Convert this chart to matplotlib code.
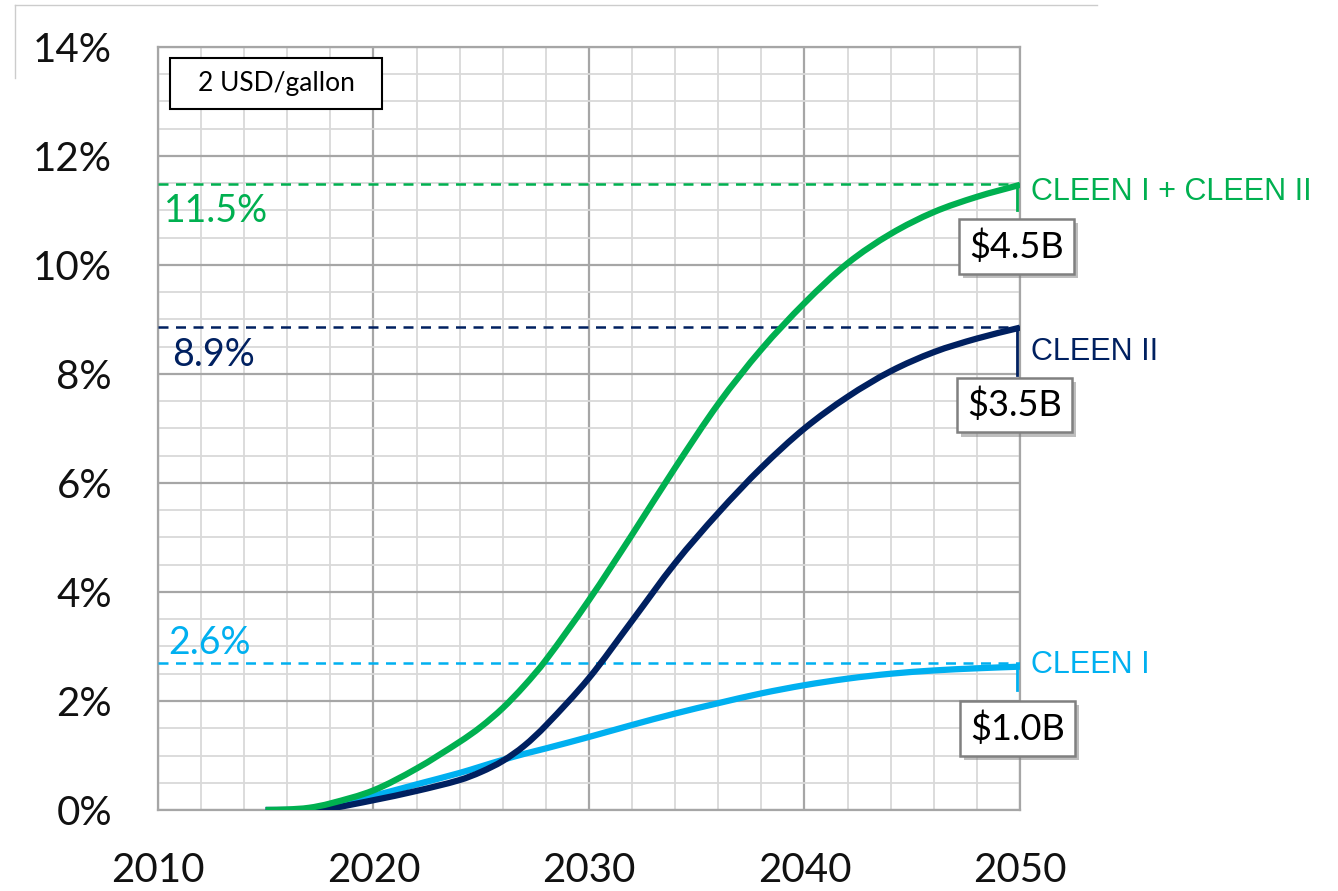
import numpy as np
import matplotlib.pyplot as plt
from matplotlib import patheffects
from matplotlib.lines import Line2D
from matplotlib.path import Path
from matplotlib.patches import PathPatch, Rectangle

# curves (percent)
years = [2015, 2016, 2017, 2018, 2020, 2022, 2024, 2025, 2026, 2027, 2028, 2030,
         2032, 2034, 2036, 2038, 2040, 2042, 2044, 2046, 2048, 2050]
cleen_both = [0.0, 0.01, 0.04, 0.12, 0.36, 0.76, 1.25, 1.53, 1.87, 2.28, 2.75, 3.85,
              5.05, 6.28, 7.45, 8.45, 9.3, 10.03, 10.57, 10.97, 11.25, 11.47]
cleen_2 = [0.0, 0.0, 0.0, 0.03, 0.18, 0.35, 0.55, 0.7, 0.9, 1.18, 1.55, 2.42,
           3.47, 4.53, 5.45, 6.28, 7.0, 7.58, 8.05, 8.4, 8.65, 8.85]
cleen_1 = [0.0, 0.0, 0.01, 0.07, 0.26, 0.47, 0.68, 0.8, 0.92, 1.03, 1.13, 1.34,
           1.56, 1.77, 1.96, 2.14, 2.29, 2.41, 2.5, 2.56, 2.6, 2.63]

names = ['CLEEN I + CLEEN II', 'CLEEN II', 'CLEEN I']
final_pct = [11.5, 8.9, 2.6]
dash_level = [11.49, 8.86, 2.70]
costs = ['$4.5B', '$3.5B', '$1.0B']
colors = ['#00b050', '#002060', '#00b0f0']


def smooth_path(x, y):
    # smoothed line through the points (cubic hermite, drawn as beziers)
    x = np.asarray(x, float)
    y = np.asarray(y, float)
    n = len(x)
    m = np.zeros(n)
    m[1:-1] = (y[2:] - y[:-2]) / (x[2:] - x[:-2])
    m[0] = (y[1] - y[0]) / (x[1] - x[0])
    m[-1] = (y[-1] - y[-2]) / (x[-1] - x[-2])
    verts = [(x[0], y[0])]
    codes = [Path.MOVETO]
    for i in range(n - 1):
        h = (x[i + 1] - x[i]) / 3
        verts += [(x[i] + h, y[i] + m[i] * h),
                  (x[i + 1] - h, y[i + 1] - m[i + 1] * h),
                  (x[i + 1], y[i + 1])]
        codes += [Path.CURVE4] * 3
    return Path(verts, codes)


fig = plt.figure(figsize=(13.38, 8.91), dpi=100)
ax = fig.add_axes([0.118, 0.0909, 0.6443, 0.8564])

ax.set_xlim(2010, 2050)
ax.set_ylim(0, 14)
ax.set_xticks(np.arange(2010, 2051, 10))
ax.set_xticks(np.arange(2010, 2051, 2), minor=True)
ax.set_yticks(np.arange(0, 15, 2))
ax.set_yticks(np.arange(0, 14.1, 0.5), minor=True)
ax.set_yticklabels(['%d%%' % v for v in range(0, 15, 2)])
ax.grid(which='minor', color='#d9d9d9', lw=1.3)
ax.grid(which='major', color='#a6a6a6', lw=1.6)
ax.set_axisbelow(True)
ax.tick_params(which='both', length=0)
ax.tick_params(axis='y', pad=33, labelsize=29, labelcolor='#111111')
ax.tick_params(axis='x', pad=30, labelsize=29, labelcolor='#111111')
for lab in ax.get_xticklabels() + ax.get_yticklabels():
    lab.set_family('Lato')
for sp in ax.spines.values():
    sp.set_color('#a6a6a6')
    sp.set_linewidth(1.6)

series = [cleen_both, cleen_2, cleen_1]
label_y = [11.34, 8.4, 2.66]
pct_pos = [(2010.3, 10.99), (2010.65, 8.35), (2010.46, 3.06)]
tick_bottom = [11.0, 7.98, 2.2]
box_pos = [(2049.84, 10.34), (2049.75, 7.43), (2049.88, 1.5)]

for i in [2, 1, 0]:
    ax.add_patch(PathPatch(smooth_path(years, series[i]), fill=False,
                           ec=colors[i], lw=4.5, capstyle='butt', zorder=4))
for i in range(3):
    c = colors[i]
    ax.axhline(dash_level[i], color=c, lw=1.8, ls=(0, (4, 3)), zorder=3)
    ax.text(pct_pos[i][0], pct_pos[i][1], '%.1f%%' % final_pct[i], color=c,
            fontsize=27, family='Lato', va='center', ha='left')
    ax.text(2050.5, label_y[i], names[i], color=c, fontsize=22,
            family='Liberation Sans', va='center', ha='left', clip_on=False)
    ax.plot([2049.86, 2049.86], [series[i][-1], tick_bottom[i]], color=c, lw=2,
            clip_on=False, zorder=5)
    t = ax.text(box_pos[i][0], box_pos[i][1], costs[i], fontsize=26, family='Lato',
                ha='center', va='center', color='black', zorder=6, clip_on=False,
                bbox=dict(boxstyle='square,pad=0.28', fc='white', ec='#808080', lw=1.8))
    t.get_bbox_patch().set_path_effects([
        patheffects.SimplePatchShadow(offset=(3, -3), shadow_rgbFace='#7f7f7f', alpha=0.5),
        patheffects.Normal()])

ax.add_patch(Rectangle((2010.56, 12.86), 9.83, 0.94, fc='white', ec='black',
                       lw=1.5, zorder=6))
ax.text(2015.48, 13.33, '2 USD/gallon', fontsize=19, family='Lato', ha='center',
        va='center', zorder=7)

# faint frame bits at the top-left of the picture
fig.add_artist(Line2D([15 / 1338, 1097 / 1338], [1 - 5 / 891, 1 - 5 / 891],
                      color='#cccccc', lw=1))
fig.add_artist(Line2D([15 / 1338, 15 / 1338], [1 - 5 / 891, 1 - 78 / 891],
                      color='#cccccc', lw=1))

fig.savefig('out.png', dpi=100)
